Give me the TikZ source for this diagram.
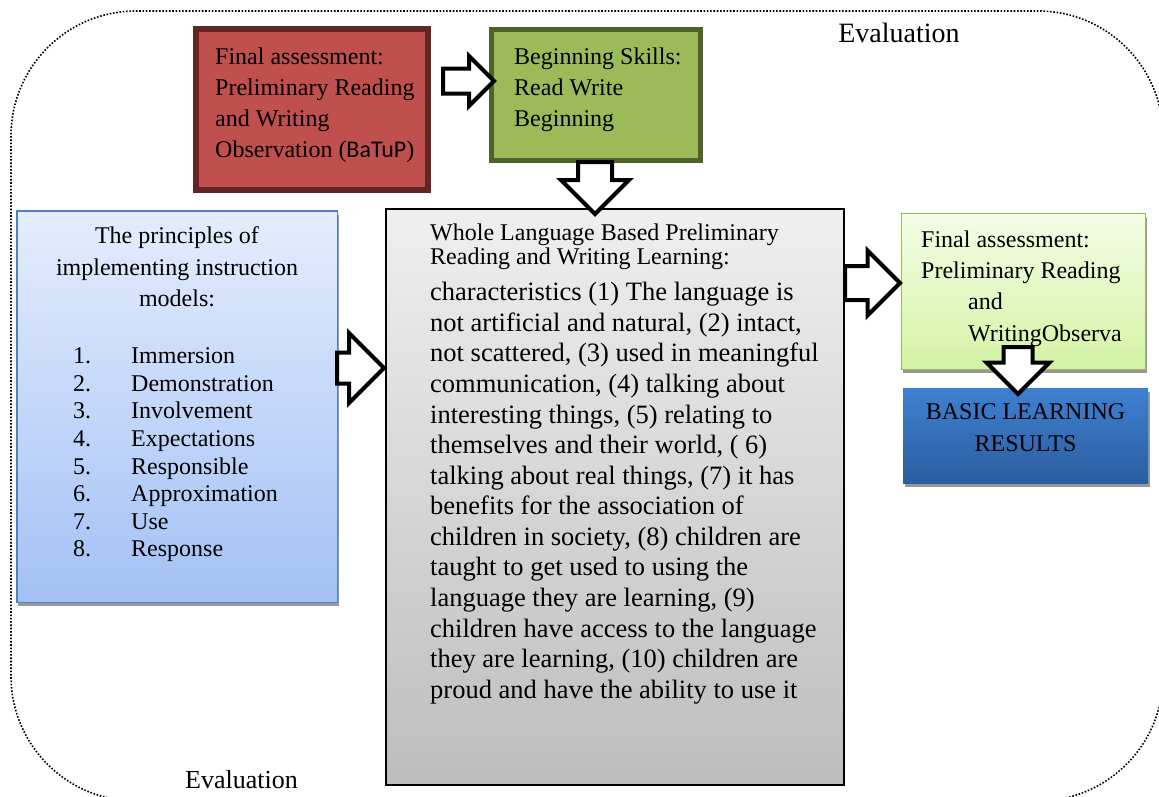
\documentclass[tikz,border=0pt]{standalone}
\usepackage{fontspec}
\setmainfont{Liberation Serif}
\newfontfamily\calibrifont{Carlito}
\usetikzlibrary{shapes.arrows,shadows}

\definecolor{redfill}{HTML}{C0504D}
\definecolor{redline}{HTML}{632523}
\definecolor{olivefill}{HTML}{9BBB59}
\definecolor{oliveline}{HTML}{4F6228}
\definecolor{bluetop}{HTML}{E4EDFD}
\definecolor{bluebottom}{HTML}{A3C1F5}
\definecolor{blueline}{HTML}{4F81BD}
\definecolor{greytop}{HTML}{EFEFEF}
\definecolor{greybottom}{HTML}{BDBDBD}
\definecolor{limetop}{HTML}{F3FDE6}
\definecolor{limebottom}{HTML}{D4F3A4}
\definecolor{resulttop}{HTML}{3F80D2}
\definecolor{resultbottom}{HTML}{2B5D9E}

\tikzset{
  box/.style={rectangle, inner sep=0pt, outer sep=0pt, anchor=north west},
  boxshadow/.style={drop shadow={shadow xshift=1.5pt, shadow yshift=-4pt, fill=black!40, opacity=1}},
  txt/.style={anchor=north west, inner sep=0pt, align=left, font=\fontsize{24}{31}\selectfont},
  blockarrow/.style={single arrow, draw=black, fill=white, line width=4pt, inner sep=0pt,
    outer sep=0pt, minimum width=0pt, anchor=tip, line join=miter}
}

\begin{document}
\begin{tikzpicture}[x=1pt, y=-1pt]
  \path[use as bounding box, clip] (0,0) rectangle (1159,796);

  % evaluation frame
  \draw[line width=1.6pt, dash pattern=on 1.6pt off 1.7pt, rounded corners=125pt] (11,11) rectangle (1163,801);
  \node[anchor=base, inner sep=0pt, font=\fontsize{28}{28}\selectfont] (evaltop) at (899,42) {Evaluation};
  \node[anchor=base, inner sep=0pt, font=\fontsize{26}{26}\selectfont] (evalbottom) at (241.5,788) {Evaluation};

  % boxes
  \node[box, fill=redfill, draw=redline, line width=6pt, minimum width=232pt, minimum height=161pt] (batup) at (196,29) {};
  \node[box, fill=olivefill, draw=oliveline, line width=5pt, minimum width=209pt, minimum height=131pt] (skills) at (491.5,29.5) {};
  \node[box, boxshadow, top color=bluetop, bottom color=bluebottom, draw=blueline, line width=1.5pt,
    minimum width=320.5pt, minimum height=391.5pt] (principles) at (16.75,210.75) {};
  \node[box, top color=greytop, bottom color=greybottom, draw=black, line width=2pt,
    minimum width=458pt, minimum height=576pt] (wholelang) at (386,209) {};
  \node[box, boxshadow, top color=limetop, bottom color=limebottom, draw=olivefill, line width=1.2pt,
    minimum width=243.8pt, minimum height=155.8pt] (finalobs) at (901.6,213.6) {};
  \node[box, boxshadow, top color=resulttop, bottom color=resultbottom,
    minimum width=245pt, minimum height=95pt] (results) at (903,388) {};

  % texts
  \node[txt] (batuptext) at (215,47.5) {Final assessment:\\Preliminary Reading\\and Writing\\Observation ({\calibrifont BaTuP})};
  \node[txt] (skillstext) at (514,47.5) {Beginning Skills:\\Read Write\\Beginning};
  \node[txt, anchor=north, align=center, font=\fontsize{24}{31.5}\selectfont] (principlestitle) at (177,226.5)
    {The principles of\\implementing instruction\\models:};
  \node[txt, font=\fontsize{24}{27.6}\selectfont] (principleslist) at (73,347.5) {%
    \makebox[58pt][l]{1.}Immersion\\
    \makebox[58pt][l]{2.}Demonstration\\
    \makebox[58pt][l]{3.}Involvement\\
    \makebox[58pt][l]{4.}Expectations\\
    \makebox[58pt][l]{5.}Responsible\\
    \makebox[58pt][l]{6.}Approximation\\
    \makebox[58pt][l]{7.}Use\\
    \makebox[58pt][l]{8.}Response};
  \node[txt, font=\fontsize{24}{24}\selectfont] (wholetitle) at (430,223.5)
    {Whole Language Based Preliminary\\Reading and Writing Learning:};
  \node[txt, font=\fontsize{26.5}{30.6}\selectfont] (wholetext) at (430,282) {%
    characteristics (1) The language is\\
    not artificial and natural, (2) intact,\\
    not scattered, (3) used in meaningful\\
    communication, (4) talking about\\
    interesting things, (5) relating to\\
    themselves and their world, ( 6)\\
    talking about real things, (7) it has\\
    benefits for the association of\\
    children in society, (8) children are\\
    taught to get used to using the\\
    language they are learning, (9)\\
    children have access to the language\\
    they are learning, (10) children are\\
    proud and have the ability to use it};
  \node[txt, font=\fontsize{24}{31.3}\selectfont] (finalobstext) at (921,230.5)
    {Final assessment:\\Preliminary Reading\\\hspace*{47pt}and\\\hspace*{47pt}WritingObserva};
  \node[txt, anchor=center, align=center, font=\fontsize{24}{32}\selectfont] (resultstext) at (1025.5,428)
    {BASIC LEARNING\\RESULTS};

  % block arrows
  \node[blockarrow, minimum height=51pt, single arrow head extend=12.5pt, inner ysep=10.5pt] (a1) at (494,81) {};
  \node[blockarrow, rotate=-90, minimum height=52pt, single arrow head extend=17pt, inner ysep=15pt] (a2) at (595,214) {};
  \node[blockarrow, minimum height=47pt, single arrow head extend=19.5pt, inner ysep=13.5pt] (a3) at (384,368) {};
  \node[blockarrow, minimum height=55pt, single arrow head extend=15.5pt, inner ysep=15pt] (a4) at (900,283) {};
  \node[blockarrow, rotate=-90, minimum height=47pt, single arrow head extend=17pt, inner ysep=12.5pt] (a5) at (1018,394) {};
\end{tikzpicture}
\end{document}
